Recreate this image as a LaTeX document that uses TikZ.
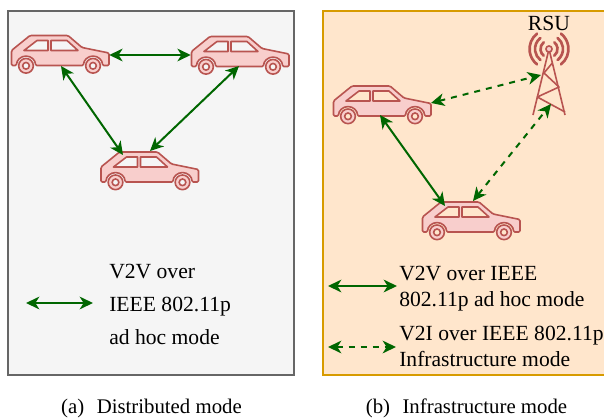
\documentclass[tikz,border=0pt]{standalone}
\usepackage{fontspec}
\setmainfont{Liberation Serif}
\usetikzlibrary{arrows.meta,calc}
\definecolor{linkgreen}{HTML}{006600}
\definecolor{carred}{HTML}{B85450}
\definecolor{carfill}{HTML}{F8CECC}
\definecolor{leftbg}{HTML}{F5F5F5}
\definecolor{leftedge}{HTML}{666666}
\definecolor{rightbg}{HTML}{FFE6CC}
\definecolor{rightedge}{HTML}{D79B00}
\tikzset{
  x=0.75pt,y=-0.75pt,
  carbox/.style={inner sep=0pt,minimum width=73.5pt,minimum height=30pt},
  link/.style={draw=linkgreen,line width=1.5pt,{Stealth[length=10pt,width=9.5pt,inset=3pt]}-{Stealth[length=10pt,width=9.5pt,inset=3pt]}},
  dlink/.style={link,dash pattern=on 4.5pt off 4.5pt},
  lbltext/.style={anchor=base west,inner sep=0pt,font=\fontsize{16.2}{16}\selectfont,text=black},
  captext/.style={anchor=base,inner sep=0pt,font=\fontsize{15.6}{16}\selectfont,text=black},
  carline/.style={draw=carred,line width=1.2pt,line join=round},
  pics/car/.style={code={
    \draw[carline,fill=carfill,rounded corners=1pt]
      (0.5,31) -- (0.5,16) -- (19,1) -- (57,1) -- (71,13) -- (98,18.5) -- (98,31) -- (91.5,31)
      arc[start angle=0,end angle=180,radius=7.1pt] -- (24.5,31)
      arc[start angle=0,end angle=180,radius=7.1pt] -- cycle;
    \draw[carline,fill=hole] (13,16) -- (26,6) -- (37,6) -- (37,16) -- cycle;
    \draw[carline,fill=hole] (40,6) -- (56,6) -- (67,16) -- (40,16) -- cycle;
    \foreach \wx in {15,82}{
      \draw[carline,fill=carfill] (\wx,31.3) circle[radius=5.5pt];
      \draw[carline,fill=hole] (\wx,31.3) circle[radius=2.5pt];
    }
  }},
}
\begin{document}
\begin{tikzpicture}
\useasboundingbox (0,0) rectangle (604,418);
\clip (0,0) rectangle (604,418);
\fill[white] (0,0) rectangle (604,418);
% panels
\draw[draw=leftedge,fill=leftbg,line width=1.5pt] (8,11) rectangle (294,375);
\draw[draw=rightedge,fill=rightbg,line width=1.5pt] (323,11) rectangle (612,375);
% car anchor nodes
\node[carbox] (c1) at (60,55) {};
\node[carbox] (c2) at (240,55) {};
\node[carbox] (c3) at (149,170) {};
\node[carbox] (c4) at (382,104) {};
\node[carbox] (c5) at (471,220) {};
\begin{scope}
\colorlet{hole}{leftbg}
\pic at (11,34.5) {car};
\pic at (191,35.5) {car};
\pic at (100.5,151) {car};
\end{scope}
\begin{scope}
\colorlet{hole}{rightbg}
\pic at (333,85) {car};
\pic at (422,201) {car};
\end{scope}
% tower
\coordinate (ant) at (549,49);
\coordinate (legl) at (533,115);
\coordinate (legr) at (565,115);
\draw[carline] (ant) -- (legl) (ant) -- (legr);
\draw[carline] (552.3,63) -- (544,73) -- (559,87) -- (537.3,97) -- (565,112);
\draw[carline,fill=carfill] (ant) circle[radius=2.3pt];
\foreach \r in {6.4,10.5,14.6}{
  \draw[draw=carred,line width=2pt,line cap=round] ([shift={(-52:\r pt)}]ant) arc[start angle=-52,end angle=52,radius=\r pt];
  \draw[draw=carred,line width=2pt,line cap=round] ([shift={(128:\r pt)}]ant) arc[start angle=128,end angle=232,radius=\r pt];
}
\node[anchor=base,inner sep=0pt,font=\fontsize{16.2}{16}\selectfont] (rsu) at (549,30) {RSU};
% links, left panel
\draw[link] (c1.east) -- (c2.west);
\draw[link] ($(c1)+(1,11)$) -- ($(c3)+(-26,-15)$);
\draw[link] ($(c2)+(-1,11)$) -- ($(c3)+(1,-19)$);
% links, right panel
\draw[dlink] ($(c4)+(49,-1)$) -- ($(ant)+(-8,26)$);
\draw[link] ($(c4)+(-2,11)$) -- ($(c5)+(-26,-14)$);
\draw[dlink] ($(c5)+(2,-19)$) -- ($(ant)+(2,55)$);
% legend left
\coordinate (la) at (26,303);
\coordinate (lb) at (93,303);
\draw[link] (la) -- (lb);
\node[lbltext] (t1) at (109,278) {V2V over};
\node[lbltext] (t2) at (109,311) {IEEE 802.11p};
\node[lbltext] (t3) at (109,344) {ad hoc mode};
% legend right
\coordinate (ra) at (328,286);
\coordinate (rb) at (397,286);
\coordinate (rc) at (328,347);
\coordinate (rd) at (396,347);
\draw[link] (ra) -- (rb);
\draw[dlink] (rc) -- (rd);
\node[lbltext] (t4) at (399,280) {V2V over IEEE};
\node[lbltext] (t5) at (399,306) {802.11p ad hoc mode};
\node[lbltext] (t6) at (399,340) {V2I over IEEE 802.11p};
\node[lbltext] (t7) at (399,366) {Infrastructure mode};
% captions
\node[captext] (ca) at (151.5,413) {(a)\hspace{0.6em}Distributed mode};
\node[captext] (cb) at (466.5,413) {(b)\hspace{0.6em}Infrastructure mode};
\end{tikzpicture}
\end{document}
